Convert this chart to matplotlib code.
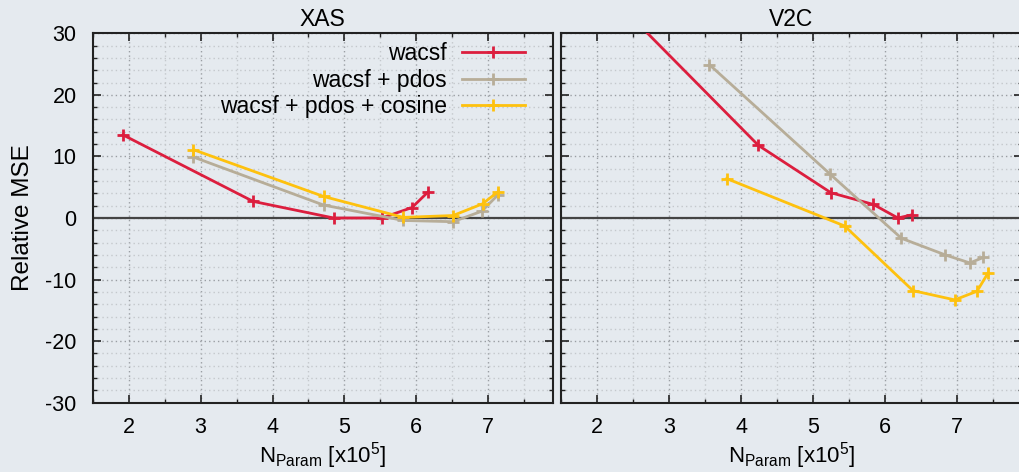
import matplotlib
matplotlib.use("Agg")
import matplotlib.pyplot as plt
from matplotlib.ticker import MultipleLocator

plt.rcParams['font.family'] = ['Liberation Sans', 'DejaVu Sans']
plt.rcParams['mathtext.fontset'] = 'custom'
plt.rcParams['mathtext.rm'] = 'Liberation Sans'
plt.rcParams['axes.unicode_minus'] = False

# Relative MSE vs. number of parameters (x10^5)
panels = ["XAS", "V2C"]
series_labels = ["wacsf", "wacsf + pdos", "wacsf + pdos + cosine"]
series_colors = ["#dc1e3e", "#b7ad98", "#fec10e"]

xas_wacsf_x = [1.92, 3.73, 4.85, 5.52, 5.94, 6.16]
xas_wacsf_y = [13.5, 2.7, 0.0, 0.0, 1.7, 4.2]
xas_pdos_x = [2.90, 4.71, 5.82, 6.51, 6.91, 7.13]
xas_pdos_y = [9.9, 2.1, -0.4, -0.6, 1.1, 3.7]
xas_cos_x = [2.90, 4.71, 5.82, 6.51, 6.92, 7.14]
xas_cos_y = [11.1, 3.5, 0.1, 0.4, 2.3, 4.3]

v2c_wacsf_x = [2.20, 4.24, 5.25, 5.84, 6.18, 6.37]
v2c_wacsf_y = [35.9, 11.8, 4.1, 2.2, 0.0, 0.5]
v2c_pdos_x = [3.56, 5.24, 6.23, 6.84, 7.18, 7.37]
v2c_pdos_y = [24.9, 7.1, -3.3, -6.0, -7.3, -6.4]
v2c_cos_x = [3.80, 5.44, 6.39, 6.97, 7.28, 7.43]
v2c_cos_y = [6.4, -1.3, -11.8, -13.3, -11.9, -9.0]

panel_data = [
    [(xas_wacsf_x, xas_wacsf_y), (xas_pdos_x, xas_pdos_y), (xas_cos_x, xas_cos_y)],
    [(v2c_wacsf_x, v2c_wacsf_y), (v2c_pdos_x, v2c_pdos_y), (v2c_cos_x, v2c_cos_y)],
]

bg = "#e5eaef"
W, H = 1019, 472
fig = plt.figure(figsize=(W / 100, H / 100), dpi=100, facecolor=bg)

ax_w = 460.3 / W
ax_h = 369.4 / H
ax_b = (H - 402.7) / H
lefts = [92.7 / W, 561.3 / W]

for i, name in enumerate(panels):
    ax = fig.add_axes([lefts[i], ax_b, ax_w, ax_h])
    ax.set_facecolor(bg)
    ax.set_xlim(1.5, 7.9)
    ax.set_ylim(-30, 30)
    ax.xaxis.set_major_locator(MultipleLocator(1))
    ax.xaxis.set_minor_locator(MultipleLocator(0.5))
    ax.yaxis.set_major_locator(MultipleLocator(10))
    ax.yaxis.set_minor_locator(MultipleLocator(2))
    ax.grid(which='major', color='#9a9ea3', linestyle=(0, (1, 2.2)), linewidth=1.0)
    ax.grid(which='minor', color='#c4c8cc', linestyle=(0, (1, 2.2)), linewidth=1.0)
    ax.set_axisbelow(True)
    ax.tick_params(which='both', direction='in', top=True, right=True,
                   color='#222222', labelsize=15.5)
    ax.tick_params(axis='x', which='major', pad=10)
    ax.tick_params(axis='y', which='major', pad=11.5)
    ax.tick_params(which='major', length=6, width=1.2)
    ax.tick_params(which='minor', length=3, width=1.0)
    for sp in ax.spines.values():
        sp.set_linewidth(1.5)
        sp.set_color('#222222')
    ax.axhline(0, color='#444444', linewidth=1.6, zorder=1.5)

    for (xs, ys), lab, col in zip(panel_data[i], series_labels, series_colors):
        ax.plot(xs, ys, color=col, linewidth=2.0, marker='+', markersize=9,
                markeredgewidth=2.0, label=lab, zorder=3)

    ax.set_title(name, fontsize=16.5, pad=5)
    ax.set_xlabel(r'N$_{\mathrm{Param}}$ [x10$^{5}$]', fontsize=16, labelpad=2)
    if i == 0:
        ax.set_ylabel('Relative MSE', fontsize=17.5, labelpad=8)
        leg = ax.legend(loc='upper right', bbox_to_anchor=(0.959, 1.0),
                        frameon=False, markerfirst=False, fontsize=16.5,
                        handlelength=2.76, handletextpad=0.64, labelspacing=0.14,
                        borderaxespad=0.0)
        for t in leg.get_texts():
            t.set_ha('right')
    else:
        ax.tick_params(labelleft=False)

fig.savefig("out.png", dpi=100, facecolor=bg)
